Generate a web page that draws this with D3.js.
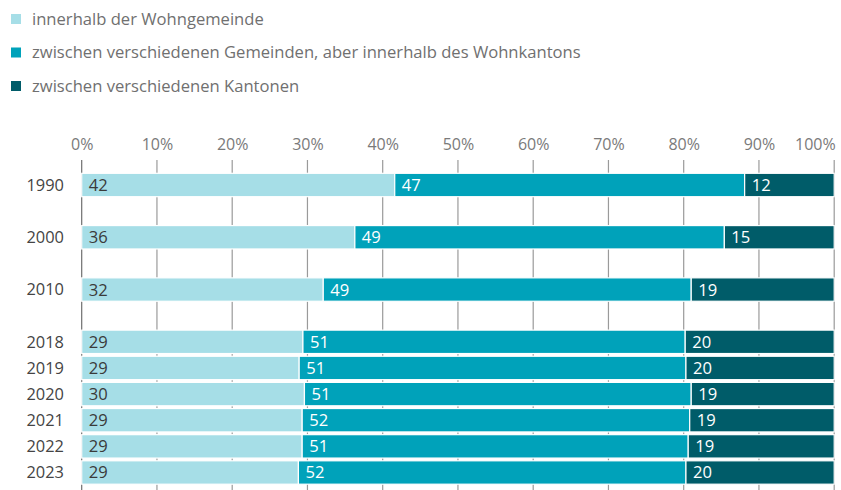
<!DOCTYPE html>
<html>
<head>
<meta charset="utf-8">
<script src="https://cdn.jsdelivr.net/npm/d3@7"></script>
<style>
  html, body { margin: 0; padding: 0; background: #fff; }
  svg { display: block; font-family: "Open Sans", "Noto Sans", sans-serif; }
</style>
</head>
<body>
<svg id="chart" width="841" height="490"></svg>
<script>
// Rows of the chart; empty slots keep the wider spacing between decades
const rows = ["1990", "", "2000", " ", "2010", "  ", "2018", "2019", "2020", "2021", "2022", "2023"];
const years = ["1990", "2000", "2010", "2018", "2019", "2020", "2021", "2022", "2023"];

// Shares in percent
const withinMunicipality = [41.6, 36.3, 32.1, 29.4, 28.9, 29.6, 29.3, 29.3, 28.8];
const betweenMunicipalities = [46.5, 49.1, 48.9, 50.8, 51.4, 51.4, 51.5, 51.3, 51.5];
const betweenCantons = [11.9, 14.6, 19.0, 19.8, 19.7, 19.0, 19.2, 19.4, 19.7];

const seriesNames = [
  "innerhalb der Wohngemeinde",
  "zwischen verschiedenen Gemeinden, aber innerhalb des Wohnkantons",
  "zwischen verschiedenen Kantonen"
];
const seriesColors = ["#a6dee7", "#00a2ba", "#005c69"];
const seriesLabelColors = ["#3a3a3a", "#ffffff", "#ffffff"];
const xTicks = [0, 10, 20, 30, 40, 50, 60, 70, 80, 90, 100];

const svg = d3.select("#chart");

const keys = ["v0", "v1", "v2"];
const table = years.map((y, i) => ({
  year: y,
  v0: withinMunicipality[i],
  v1: betweenMunicipalities[i],
  v2: betweenCantons[i]
}));
const stacked = d3.stack().keys(keys)(table);

const x = d3.scaleLinear().domain([0, 100]).range([81.7, 834.2]);
const y = d3.scaleBand().domain(rows).range([172, 485.5]).paddingInner(0.105).paddingOuter(0.05);

// Legend
const legend = svg.append("g");
seriesNames.forEach((name, i) => {
  const g = legend.append("g").attr("transform", `translate(0, ${19 + i * 33.5})`);
  g.append("rect").attr("x", 11).attr("y", -5).attr("width", 10).attr("height", 10)
    .attr("fill", seriesColors[i]);
  g.append("text").attr("x", 32).attr("y", 0).attr("dy", "0.35em")
    .attr("font-size", 16.6).attr("fill", "#707070").text(name);
});

// Top axis labels; the last one ends at the plot edge
const axis = svg.append("g").attr("transform", "translate(0,160)")
  .call(d3.axisTop(x).tickValues(xTicks).tickFormat(d => d + "%").tickSize(0).tickPadding(10));
axis.select(".domain").remove();
axis.selectAll("text").attr("font-size", 16).attr("fill", "#7a7a7a")
  .attr("font-family", "'Open Sans', 'Noto Sans', sans-serif")
  .attr("text-anchor", d => d === 100 ? "end" : "middle")
  .attr("dx", d => d === 100 ? 1 : 0);

// Gridlines
svg.append("g").selectAll("line").data(xTicks).join("line")
  .attr("x1", d => x(d)).attr("x2", d => x(d))
  .attr("y1", 160).attr("y2", 490)
  .attr("stroke", d => d === 0 ? "#6e6e6e" : "#9a9a9a").attr("stroke-width", 1.2);

// Bars
const layers = svg.append("g").selectAll("g").data(stacked).join("g")
  .attr("fill", (d, i) => seriesColors[i]);
layers.selectAll("rect").data(d => d).join("rect")
  .attr("x", d => x(d[0]))
  .attr("width", d => x(d[1]) - x(d[0]))
  .attr("y", d => y(d.data.year))
  .attr("height", y.bandwidth())
  .attr("stroke", "#ffffff").attr("stroke-width", 1.2);

// Value labels, rounded from each segment's own value
layers.each(function(layer, i) {
  d3.select(this).selectAll("text").data(layer).join("text")
    .attr("x", d => x(d[0]) + 7)
    .attr("y", d => y(d.data.year) + y.bandwidth() / 2)
    .attr("dy", "0.36em")
    .attr("font-size", 16.6)
    .attr("fill", seriesLabelColors[i])
    .text(d => Math.round(d.data[keys[i]]));
});

// Year labels
svg.append("g").selectAll("text").data(years).join("text")
  .attr("x", 64).attr("y", d => y(d) + y.bandwidth() / 2).attr("dy", "0.36em")
  .attr("text-anchor", "end").attr("font-size", 16.4).attr("fill", "#444")
  .text(d => d);
</script>
</body>
</html>
